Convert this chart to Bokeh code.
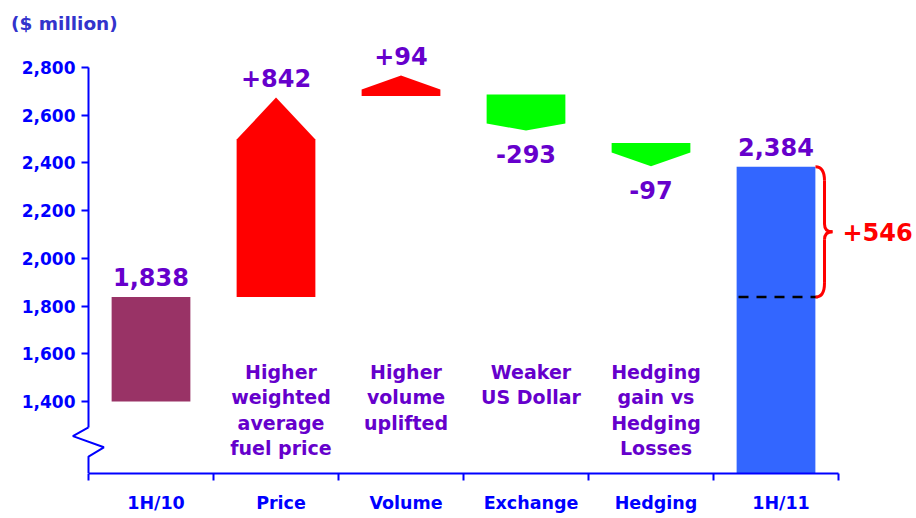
from bokeh.plotting import figure
from bokeh.models import FixedTicker, Label, NumeralTickFormatter
from bokeh.core.properties import value
from bokeh.embed import file_html
from bokeh.resources import INLINE

# ---------------- data ----------------
categories = ["1H/10", "Price", "Volume", "Exchange", "Hedging", "1H/11"]
descriptions = ["", "Higher\nweighted\naverage\nfuel price", "Higher\nvolume\nuplifted",
                "Weaker\nUS Dollar", "Hedging\ngain vs\nHedging\nLosses", ""]
totals = [1838, 2384]            # 1H/10, 1H/11
total_bottoms = [1400, 1100]
deltas = [842, 94, -293, -97]    # Price, Volume, Exchange, Hedging
step_base = [1838, 2680, 2687, 2483]
step_shoulder = [2498, 2708, 2565, 2444]
step_tip = [2674, 2766, 2536, 2386]
y_ticks = [1400, 1600, 1800, 2000, 2200, 2400, 2600, 2800]

# ---------------- styles ----------------
AXIS_BLUE = "#0000ff"
PURPLE = "#6600cc"
RED = "#ff0000"
GREEN = "#00ff00"
FONT = "DejaVu Sans"
HW = 0.315          # half bar width (category units)
BASE_Y = 1100       # value where the category axis sits
DESC_Y = 1571

p = figure(width=915, height=517, x_range=(-0.704, 6.616), y_range=(913.8, 3080.8),
           output_backend="svg", toolbar_location=None)
p.min_border_left = p.min_border_right = p.min_border_top = p.min_border_bottom = 0
p.outline_line_color = None
p.grid.visible = False

# y axis
ya = p.yaxis[0]
ya.fixed_location = 0
ya.bounds = (1292, 2800)
ya.ticker = FixedTicker(ticks=y_ticks)
ya.formatter = NumeralTickFormatter(format="0,0")
ya.axis_line_color = AXIS_BLUE
ya.axis_line_width = 2
ya.major_tick_line_color = AXIS_BLUE
ya.major_tick_line_width = 2
ya.major_tick_out = 7
ya.major_tick_in = 0
ya.minor_tick_line_color = None
ya.major_label_text_font = FONT
ya.major_label_text_font_style = "bold"
ya.major_label_text_font_size = "17px"
ya.major_label_text_color = AXIS_BLUE
ya.major_label_standoff = 6

# x axis
label_pos = [i + 0.54 for i in range(len(categories))]
xa = p.xaxis[0]
xa.fixed_location = BASE_Y
xa.bounds = (0, len(categories))
xa.ticker = FixedTicker(ticks=label_pos, minor_ticks=list(range(len(categories) + 1)))
xa.major_label_overrides = {t: c for t, c in zip(label_pos, categories)}
xa.axis_line_color = AXIS_BLUE
xa.axis_line_width = 2
xa.major_tick_line_color = None
xa.major_tick_out = 0
xa.major_tick_in = 0
xa.minor_tick_line_color = AXIS_BLUE
xa.minor_tick_line_width = 2
xa.minor_tick_out = 7
xa.minor_tick_in = 0
xa.major_label_text_font = FONT
xa.major_label_text_font_style = "bold"
xa.major_label_text_font_size = "17.5px"
xa.major_label_text_color = AXIS_BLUE
xa.major_label_standoff = 13

# axis break zigzag
p.line(x=[0, -0.125, 0.123, 0, 0], y=[1292, 1255, 1208, 1169, BASE_Y],
       line_color=AXIS_BLUE, line_width=2)

# total bars
total_x = [0.5, len(categories) - 0.5]
p.quad(left=[x - HW for x in total_x], right=[x + HW for x in total_x],
       bottom=total_bottoms, top=totals, fill_color=["#993366", "#3366ff"], line_color=None)

# step arrows
xs, ys, cols = [], [], []
for i, (b, s, t, d) in enumerate(zip(step_base, step_shoulder, step_tip, deltas)):
    cx = i + 1.5
    xs.append([cx - HW, cx - HW, cx, cx + HW, cx + HW])
    ys.append([b, s, t, s, b])
    cols.append(RED if d > 0 else GREEN)
p.patches(xs, ys, fill_color=cols, line_color=None)

# value labels
up_x = [total_x[0]] + [i + 1.5 for i, d in enumerate(deltas) if d > 0] + [total_x[1]]
up_y = [totals[0]] + [t for t, d in zip(step_tip, deltas) if d > 0] + [totals[1]]
up_t = [f"{totals[0]:,}"] + [f"+{d}" for d in deltas if d > 0] + [f"{totals[1]:,}"]
dn_x = [i + 1.5 for i, d in enumerate(deltas) if d < 0]
dn_y = [t for t, d in zip(step_tip, deltas) if d < 0]
dn_t = [f"{d}" for d in deltas if d < 0]
common = dict(text_font=value(FONT), text_font_style="bold", text_font_size="24px",
              text_color=PURPLE, text_align="center", text_baseline="middle")
p.text(x=up_x, y=up_y, text=up_t, y_offset=-20, **common)
p.text(x=dn_x, y=dn_y, text=dn_t, y_offset=24, **common)

# descriptions
p.text(x=[i + 0.54 for i in range(len(categories))], y=[DESC_Y] * len(categories),
       text=descriptions, text_font=value(FONT), text_font_style="bold",
       text_font_size="19px", text_color=PURPLE, text_align="center",
       text_baseline="top", text_line_height=1.163)

# dashed reference line at 1H/10 level inside the 1H/11 bar
cx = total_x[1]
p.segment(x0=[cx - HW + 0.015], y0=[totals[0]], x1=[cx + HW + 0.02], y1=[totals[0]],
          line_color="black", line_width=2.5, line_dash="10 8")

# brace showing the increase
top, bot = totals[1], totals[0]
mid = (top + bot) / 2
xa0, xb0, xc0 = cx + 0.316, cx + 0.388, cx + 0.452
p.quadratic(x0=[xa0, xc0, xc0, xb0], y0=[top, mid, mid, bot + 59],
            x1=[xb0, xb0, xb0, xa0], y1=[top - 59, mid + 33.5, mid - 33.5, bot],
            cx=[xb0, xb0, xb0, xb0], cy=[top, mid, mid, bot],
            line_color=RED, line_width=3)
p.segment(x0=[xb0, xb0], y0=[top - 59, mid - 33.5], x1=[xb0, xb0], y1=[mid + 33.5, bot + 59],
          line_color=RED, line_width=3)
p.text(x=[xc0 + 0.08], y=[mid], text=[f"+{top - bot}"], text_font=value(FONT),
       text_font_style="bold", text_font_size="24px", text_color=RED,
       text_align="left", text_baseline="middle")

# unit label
p.add_layout(Label(x=-0.62, y=2984, text="($ million)", text_font=FONT,
                   text_font_style="bold", text_font_size="18.5px", text_color="#3333cc",
                   text_baseline="middle"))

open("out.html", "w").write(file_html(p, INLINE))
